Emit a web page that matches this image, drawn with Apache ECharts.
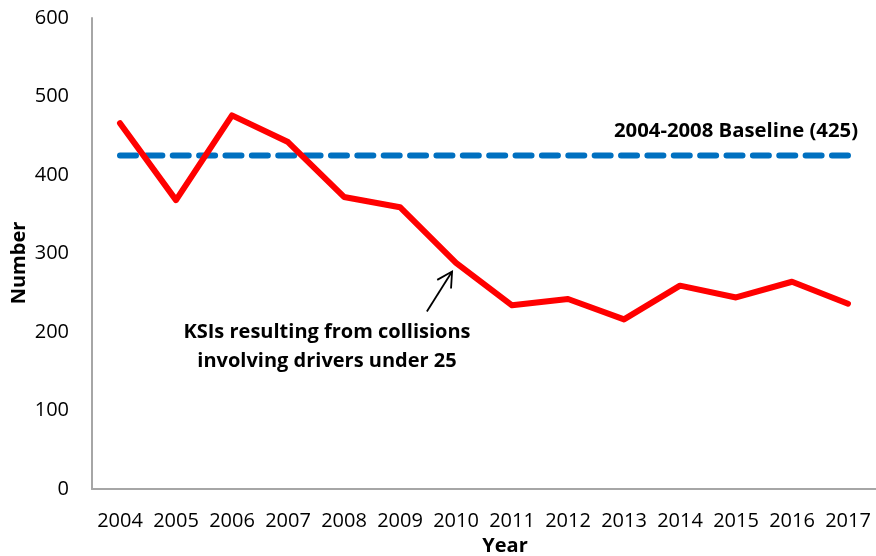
<!DOCTYPE html>
<html>
<head>
<meta charset="utf-8">
<script src="https://cdn.jsdelivr.net/npm/echarts@6/dist/echarts.min.js"></script>
<style>
html,body{margin:0;padding:0;background:#fff;}
#chart{width:876px;height:556px;}
</style>
</head>
<body>
<div id="chart"></div>
<script>
var years = ['2004','2005','2006','2007','2008','2009','2010','2011','2012','2013','2014','2015','2016','2017'];
var ksi = [466, 368, 476, 442, 372, 359, 288, 234, 242, 216, 259, 244, 264, 236];
var baselineValue = 425;
var baseline = years.map(function(){ return baselineValue; });
var yTicks = [0, 100, 200, 300, 400, 500, 600];
var baselineLabel = '2004-2008 Baseline (425)';
var ksiLabel = ['KSIs resulting from collisions', 'involving drivers under 25'];

var FONT = 'Open Sans';
var chart = echarts.init(document.getElementById('chart'), null, {renderer:'canvas'});
chart.setOption({
  animation: false,
  backgroundColor: '#ffffff',
  grid: {left: 92, right: 0, top: 18, bottom: 67, containLabel: false},
  xAxis: {
    type: 'category',
    data: years,
    boundaryGap: true,
    axisLine: {show: true, lineStyle: {color: '#a6a6a6', width: 2}},
    axisTick: {show: false},
    axisLabel: {color: '#000', fontFamily: FONT, fontSize: 20, margin: 22, interval: 0}
  },
  yAxis: {
    type: 'value',
    min: yTicks[0], max: yTicks[yTicks.length-1], interval: 100,
    axisLine: {show: true, lineStyle: {color: '#a6a6a6', width: 2}},
    axisTick: {show: false},
    splitLine: {show: false},
    axisLabel: {color: '#000', fontFamily: FONT, fontSize: 20, margin: 23}
  },
  series: [
    {
      type: 'line', data: baseline, symbol: 'none',
      lineStyle: {color: '#0070c0', width: 6, type: [16, 10.37], cap: 'round'},
      z: 2
    },
    {
      type: 'line', data: ksi, symbol: 'none',
      lineStyle: {color: '#ff0000', width: 6, cap: 'round', join: 'round'},
      z: 3
    }
  ]
});

function px(idx, val) {
  var a = chart.convertToPixel({gridIndex: 0}, [Math.floor(idx), val]);
  var b = chart.convertToPixel({gridIndex: 0}, [Math.floor(idx) + 1, val]);
  var f = idx - Math.floor(idx);
  return [a[0] + (b[0] - a[0]) * f, a[1]];
}
var tip = px(5.93, 277);
var tail = px(5.48, 226);
var dx = tail[0] - tip[0], dy = tail[1] - tip[1];
var ang = Math.atan2(dy, dx);
var hl = 17, spread = 0.5;
var h1 = [tip[0] + hl * Math.cos(ang - spread), tip[1] + hl * Math.sin(ang - spread)];
var h2 = [tip[0] + hl * Math.cos(ang + spread), tip[1] + hl * Math.sin(ang + spread)];

chart.setOption({
  graphic: [
    {type: 'line', shape: {x1: tail[0], y1: tail[1], x2: tip[0], y2: tip[1]}, style: {stroke: '#000', lineWidth: 1.8}},
    {type: 'polyline', shape: {points: [h1, tip, h2]}, style: {stroke: '#000', lineWidth: 1.8, fill: null}},
    {type: 'text', x: 736, y: 131, style: {text: baselineLabel, font: 'bold 20.3px "Open Sans"', fill: '#000', textAlign: 'center', textVerticalAlign: 'middle'}},
    {type: 'text', x: 327, y: 332, style: {text: ksiLabel[0], font: 'bold 20px "Open Sans"', fill: '#000', textAlign: 'center', textVerticalAlign: 'middle'}},
    {type: 'text', x: 327, y: 361, style: {text: ksiLabel[1], font: 'bold 20px "Open Sans"', fill: '#000', textAlign: 'center', textVerticalAlign: 'middle'}},
    {type: 'text', x: 505, y: 546, style: {text: 'Year', font: 'bold 20px "Open Sans"', fill: '#000', textAlign: 'center', textVerticalAlign: 'middle'}},
    {type: 'text', x: 19, y: 263, rotation: Math.PI / 2, style: {text: 'Number', font: 'bold 20px "Open Sans"', fill: '#000', textAlign: 'center', textVerticalAlign: 'middle'}}
  ]
});
</script>
</body>
</html>
